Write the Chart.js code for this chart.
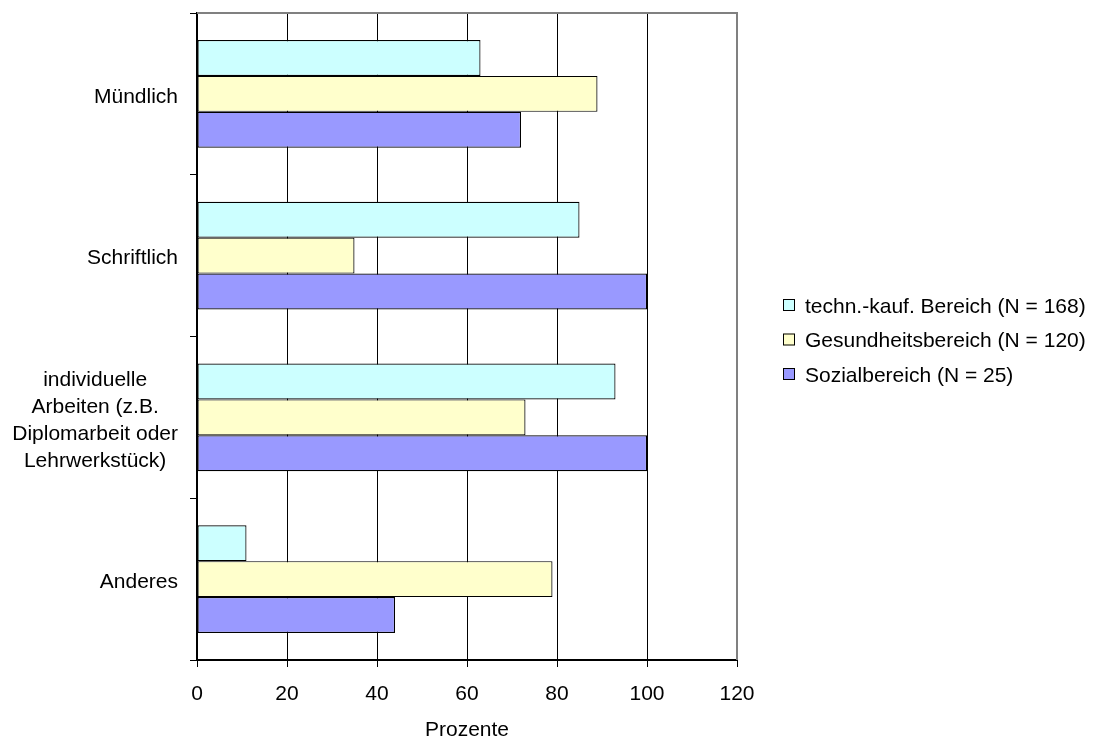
<!DOCTYPE html>
<html>
<head>
<meta charset="utf-8">
<script src="https://cdn.jsdelivr.net/npm/chart.js@4/dist/chart.umd.min.js"></script>
<style>
  html, body { margin: 0; padding: 0; background: #fff; }
  #wrap { width: 1093px; height: 740px; }
</style>
</head>
<body>
<div id="wrap"><canvas id="chart" width="1093" height="740"></canvas></div>
<script>
const categories = [
  ['Mündlich'],
  ['Schriftlich'],
  ['individuelle', 'Arbeiten (z.B.', 'Diplomarbeit oder', 'Lehrwerkstück)'],
  ['Anderes']
];
const seriesNames = ['techn.-kauf. Bereich (N = 168)', 'Gesundheitsbereich (N = 120)', 'Sozialbereich (N = 25)'];
const technKauf = [63, 85, 93, 11];
const gesundheit = [89, 35, 73, 79];
const sozial = [72, 100, 100, 44];
const xTicks = [0, 20, 40, 60, 80, 100, 120];
const colors = ['#CCFFFF', '#FFFFCC', '#9999FF'];

const FONT = "'Liberation Sans', Arial, sans-serif";
const FS = 21;

// category labels + legend drawn by hand (built-in legend gets squeezed on the right)
const extras = {
  id: 'extras',
  afterDraw(chart) {
    const { ctx, chartArea } = chart;
    const y = chart.scales.y;
    ctx.save();
    ctx.font = `${FS}px ${FONT}`;
    ctx.fillStyle = '#000';
    ctx.textAlign = 'center';
    ctx.textBaseline = 'middle';
    const lh = 27;
    categories.forEach((lines, i) => {
      const w = Math.max(...lines.map(l => ctx.measureText(l).width));
      const cx = chartArea.left - 19 - w / 2;
      const cy = y.getPixelForValue(i) + 3;
      lines.forEach((l, j) => ctx.fillText(l, cx, cy + (j - (lines.length - 1) / 2) * lh));
    });

    // grey plot frame (top + right)
    ctx.strokeStyle = '#808080';
    ctx.lineWidth = 2;
    ctx.beginPath();
    ctx.moveTo(chartArea.left, chartArea.top);
    ctx.lineTo(chartArea.right, chartArea.top);
    ctx.lineTo(chartArea.right, chartArea.bottom);
    ctx.stroke();

    // legend
    ctx.textAlign = 'left';
    ctx.lineWidth = 1;
    ctx.strokeStyle = '#000';
    seriesNames.forEach((name, i) => {
      const cy = 305 + i * 34.5;
      const bx = chartArea.right + 46;
      ctx.fillStyle = colors[i];
      ctx.fillRect(bx, cy - 6, 12, 12);
      ctx.strokeRect(bx + 0.5, cy - 5.5, 11, 11);
      ctx.fillStyle = '#000';
      ctx.fillText(name, bx + 22, cy + 2);
    });
    ctx.restore();
  }
};

new Chart(document.getElementById('chart'), {
  type: 'bar',
  data: {
    labels: categories.map(c => c.join(' ')),
    datasets: [technKauf, gesundheit, sozial].map((d, i) => ({
      label: seriesNames[i],
      data: d,
      backgroundColor: colors[i],
      borderColor: '#000',
      borderWidth: 1.2,
      borderSkipped: false,
      categoryPercentage: 0.667,
      barPercentage: 1.0
    }))
  },
  options: {
    indexAxis: 'y',
    responsive: false,
    animation: false,
    layout: { padding: { top: 13, left: 0, right: 356, bottom: 0 } },
    plugins: {
      legend: { display: false },
      tooltip: { enabled: false }
    },
    scales: {
      x: {
        min: 0, max: 120,
        afterBuildTicks: s => { s.ticks = xTicks.map(v => ({ value: v })); },
        grid: {
          color: ctx => ctx.tick && ctx.tick.value === 120 ? '#808080' : '#000',
          tickColor: '#000',
          lineWidth: 1,
          tickLength: 7
        },
        border: { color: '#000', width: 2 },
        ticks: { font: { family: FONT, size: FS }, color: '#000', padding: 15 },
        title: { display: true, text: 'Prozente', font: { family: FONT, size: FS }, color: '#000', padding: { top: 10, bottom: -3 } },
        afterFit: s => { s.height = 80; }
      },
      y: {
        grid: { offset: true, drawOnChartArea: false, color: '#000', tickLength: 7 },
        border: { color: '#000', width: 2 },
        ticks: { display: false },
        afterFit: s => { s.width = 197; }
      }
    }
  },
  plugins: [extras]
});
</script>
</body>
</html>
